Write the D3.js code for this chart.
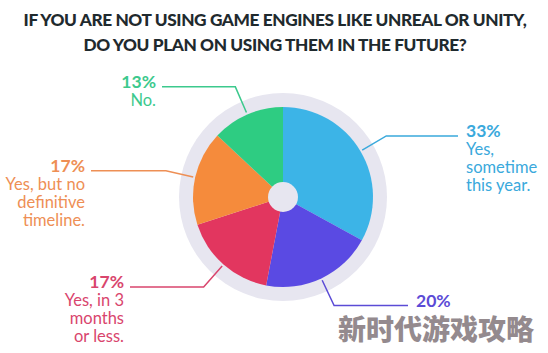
<!DOCTYPE html>
<html>
<head>
<meta charset="utf-8">
<script src="https://cdn.jsdelivr.net/npm/d3@7"></script>
<style>
  body { margin: 0; background: #fff; }
  svg { display: block; font-family: Lato, "Open Sans", sans-serif; }
</style>
</head>
<body>
<div class="content"></div>
<script>
const WIDTH = 548, HEIGHT = 353;
const CENTER = {x: 283, y: 197};
const R = 90, RING = 104, HOLE = 15;

// data, clockwise from 12 o'clock
const categories = ["Yes, sometime this year.", "20%", "Yes, in 3 months or less.", "Yes, but no definitive timeline.", "No."];
const values = [33, 20, 17, 17, 13];
const labelLines = [
  ["Yes,", "sometime", "this year."],
  [],
  ["Yes, in 3", "months", "or less."],
  ["Yes, but no", "definitive", "timeline."],
  ["No."]
];
const colours = ["#3cb4e7", "#5a4ae3", "#e2365f", "#f58b3c", "#2ecc82"];
const textColours = ["#3aa9dc", "#5b4bd6", "#d9456d", "#ee8f55", "#3cc98d"];
const titleLines = ["IF YOU ARE NOT USING GAME ENGINES LIKE UNREAL OR UNITY,", "DO YOU PLAN ON USING THEM IN THE FUTURE?"];

// where each leader line stops horizontally
const lineEndX = [458, 408, 130, 91, 162];

const svg = d3.select(".content").append("svg").attr("width", WIDTH).attr("height", HEIGHT);

const title = svg.append("g").attr("class", "title")
  .selectAll("text").data(titleLines).join("text")
    .attr("x", 275).attr("y", (d, i) => 26 + i * 25)
    .attr("text-anchor", "middle")
    .style("font-size", "20px").style("font-weight", 900).style("fill", "#1f2a2e")
    .style("letter-spacing", "-0.4px")
    .text(d => d);
// shrink the title so the first line spans about 506px like the original
const w0 = title.nodes()[0].getComputedTextLength();
title.style("font-size", (20 * 506 / w0) + "px");

const pie = d3.pie().sort(null).value(d => d)(values);
const arc = d3.arc().innerRadius(0).outerRadius(R);

const g = svg.append("g").attr("transform", "translate(" + [CENTER.x, CENTER.y] + ")");

g.append("circle").attr("r", RING).style("fill", "#e7e6f0");

// leader lines
const pt = (a, r) => [Math.sin(a) * r, -Math.cos(a) * r];
g.append("g").selectAll("path").data(pie).join("path")
  .attr("d", (d, i) => {
    const a = (d.startAngle + d.endAngle) / 2;
    const p0 = pt(a, 92), p1 = pt(a, 120);
    return "M" + p0 + "L" + p1 + "L" + [lineEndX[i] - CENTER.x, p1[1]];
  })
  .style("fill", "none").style("stroke", (d, i) => textColours[i]).style("stroke-width", 1.5);

g.append("g").selectAll("path").data(pie).join("path")
  .attr("d", arc).style("fill", (d, i) => colours[i]);

g.append("circle").attr("r", HOLE).style("fill", "#e7e6f0");

// labels
g.append("g").selectAll("text").data(pie).join("text")
  .each(function(d, i) {
    const a = (d.startAngle + d.endAngle) / 2;
    const y = pt(a, 120)[1] + 1;
    const right = a < Math.PI;
    const x = lineEndX[i] - CENTER.x + (right ? 8 : -6);
    const t = d3.select(this)
      .attr("text-anchor", right ? "start" : "end")
      .style("fill", textColours[i]);
    t.append("tspan").attr("x", x).attr("y", y)
      .style("font-weight", 700).style("font-size", "17.5px")
      .text(values[i] + "%");
    labelLines[i].forEach((line, k) => {
      t.append("tspan").attr("x", x).attr("y", y + 18 * (k + 1))
        .style("font-size", "16.5px")
        .text(line);
    });
  });

// watermark
svg.append("text").attr("x", 338).attr("y", 340)
  .style("font-family", "'Noto Sans CJK SC'").style("font-weight", 900).style("font-size", "28px")
  .style("fill", "#948a8e").style("stroke", "#fff").style("stroke-width", 1.5).style("paint-order", "stroke")
  .text("新时代游戏攻略");
</script>
</body>
</html>
